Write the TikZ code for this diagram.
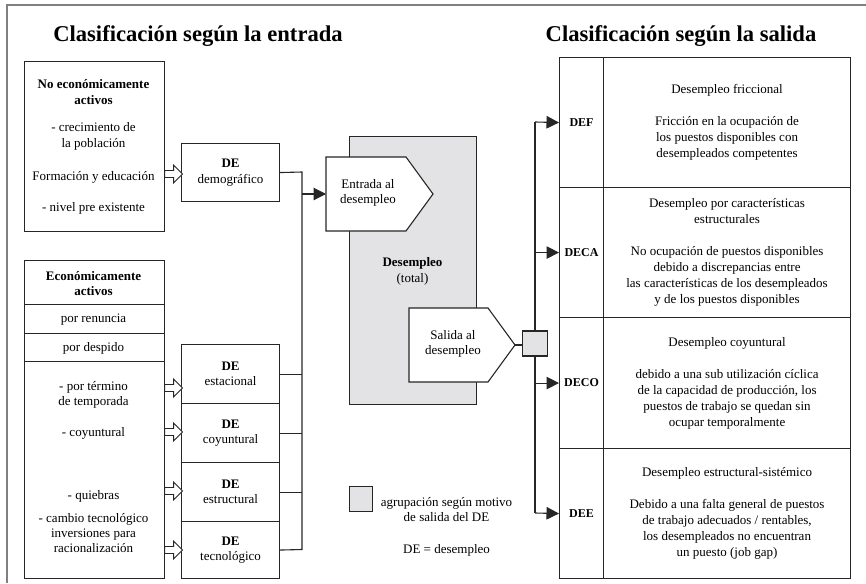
\documentclass[tikz,border=0pt]{standalone}
\usepackage{fontspec}
\setmainfont{Liberation Serif}
\usetikzlibrary{arrows.meta,calc}
\definecolor{boxgray}{HTML}{E3E3E5}
\definecolor{ln}{HTML}{262626}
\definecolor{framegray}{HTML}{808080}
\begin{document}
\begin{tikzpicture}[x=1pt,y=-1pt,
 txt/.style={font=\fontsize{13}{15.5}\selectfont, align=center, inner sep=0pt},
 btxt/.style={font=\fontsize{13}{15.5}\selectfont\bfseries, align=center, inner sep=0pt},
 ttl/.style={font=\fontsize{22.6}{26}\selectfont\bfseries, anchor=base, inner sep=0pt},
 box/.style={draw=ln, line width=1.1pt, inner sep=0pt, anchor=north west, align=center,
   font=\fontsize{13}{15.5}\selectfont},
 tbox/.style={box, font=\fontsize{13}{16}\selectfont},
 conn/.style={draw=ln, line width=1.1pt},
 arr/.style={conn, -{Triangle[length=12.5pt,width=12.5pt]}},
 harrow/.pic={\draw[ln, line width=0.9pt, fill=white] (0,-3.5)--(9,-3.5)--(9,-9)--(18,0)--(9,9)--(9,3.5)--(0,3.5)--cycle;},
]
\useasboundingbox (0,0) rectangle (866,583);
% frame
\draw[framegray, line width=1.2pt] (7,583) -- (7,5) -- (866,5);

% titles
\node[ttl] (t1) at (198,42) {Clasificación según la entrada};
\node[ttl] (t2) at (681,42) {Clasificación según la salida};

% gray total box
\node[box, fill=boxgray, minimum width=127pt, minimum height=268pt] (tot) at (349,136) {};
\node[btxt, anchor=base] (totA) at (412.5,266) {Desempleo};
\node[txt, anchor=base] (totB) at (412.5,282) {(total)};

% entrada / salida pentagons
\draw[ln, line width=1.1pt, fill=white] (326,157) -- (406,157) -- (433,194) -- (406,231) -- (326,231) -- cycle;
\coordinate (entW) at (326,194);
\node[txt] (ent) at (368,193) {Entrada al\\desempleo};
\draw[ln, line width=1.1pt, fill=white] (409,308) -- (488,308) -- (515,345) -- (488,382) -- (409,382) -- cycle;
\coordinate (salE) at (515,345);
\node[txt] (sal) at (453,344) {Salida al\\desempleo};

% left top box
\node[box, minimum width=140pt, minimum height=170pt] (ne) at (23.5,61) {};
\node[btxt, anchor=base] (ne1) at (93.5,88.5) {No económicamente};
\node[btxt, anchor=base] (ne2) at (93.5,104) {activos};
\node[txt, anchor=base] (ne3) at (93.5,131.5) {- crecimiento de};
\node[txt, anchor=base] (ne4) at (93.5,147) {la población};
\node[txt, anchor=base] (ne5) at (93.5,180) {Formación y educación};
\node[txt, anchor=base] (ne6) at (93.5,211) {- nivel pre existente};

% left bottom box
\node[box, minimum width=140pt, minimum height=44pt] (ea) at (23.5,260) {};
\node[btxt, anchor=base] (ea1) at (93.5,280) {Económicamente};
\node[btxt, anchor=base] (ea2) at (93.5,295) {activos};
\node[box, minimum width=140pt, minimum height=29pt] (eb) at (23.5,304) {};
\node[txt, anchor=base] (eb1) at (93.5,322) {por renuncia};
\node[box, minimum width=140pt, minimum height=28pt] (ec) at (23.5,333) {};
\node[txt, anchor=base] (ec1) at (93.5,351.5) {por despido};
\node[box, minimum width=140pt, minimum height=217pt] (ed) at (23.5,361) {};
\node[txt, anchor=base] (ed1) at (93.5,390) {- por término};
\node[txt, anchor=base] (ed2) at (93.5,405) {de temporada};
\node[txt, anchor=base] (ed3) at (93.5,436.5) {- coyuntural};
\node[txt, anchor=base] (ed4) at (93.5,499) {- quiebras};
\node[txt, anchor=base] (ed5) at (93.5,522.5) {- cambio tecnológico};
\node[txt, anchor=base] (ed6) at (93.5,537.5) {inversiones para};
\node[txt, anchor=base] (ed7) at (93.5,552.5) {racionalización};

% DE boxes
\node[box, minimum width=98pt, minimum height=58pt] (dem) at (181,143) {\textbf{DE}\\demográfico};
\node[box, minimum width=98pt, minimum height=59pt] (est) at (181,344) {\textbf{DE}\\estacional};
\node[box, minimum width=98pt, minimum height=59pt] (coy) at (181,403) {\textbf{DE}\\coyuntural};
\node[box, minimum width=98pt, minimum height=59pt] (estr) at (181,462) {\textbf{DE}\\estructural};
\node[box, minimum width=98pt, minimum height=57pt] (tec) at (181,521) {\textbf{DE}\\tecnológico};

% hollow arrows
\pic at (ne.east |- 0,174) {harrow};
\pic at (ed.east |- 0,388) {harrow};
\pic at (ed.east |- 0,432) {harrow};
\pic at (ed.east |- 0,491) {harrow};
\pic at (ed.east |- 0,550) {harrow};

% collector line
\coordinate (cTop) at (302,172);
\coordinate (cBot) at (302,549.5);
\draw[conn] (dem.east) -- (cTop) -- (cBot) -- (tec.east);
\draw[conn] (est.east) -- (est.east -| cTop);
\draw[conn] (coy.east) -- (coy.east -| cTop);
\draw[conn] (estr.east) -- (estr.east -| cTop);
\draw[arr] (cTop |- entW) -- (entW);

% gray small square and distribution
\node[draw=ln, line width=1.1pt, fill=boxgray, minimum size=25pt, inner sep=0pt] (sq) at (535,343.5) {};
\draw[conn] (salE) -- (sq.west |- salE);

% right table
\node[tbox, font=\fontsize{12}{16}\selectfont\bfseries, minimum width=44pt, minimum height=130pt] (def) at (559,57) {DEF};
\node[tbox, minimum width=247pt, minimum height=130pt] (defd) at (603,57) {Desempleo friccional\\[16pt]Fricción en la ocupación de\\los puestos disponibles con\\desempleados competentes};
\node[tbox, font=\fontsize{12}{16}\selectfont\bfseries, minimum width=44pt, minimum height=130pt] (deca) at (559,187) {DECA};
\node[tbox, minimum width=247pt, minimum height=130pt] (decad) at (603,187) {Desempleo por características\\estructurales\\[16pt]No ocupación de puestos disponibles\\debido a discrepancias entre\\las características de los desempleados\\y de los puestos disponibles};
\node[tbox, font=\fontsize{12}{16}\selectfont\bfseries, minimum width=44pt, minimum height=131pt] (deco) at (559,317) {DECO};
\node[tbox, minimum width=247pt, minimum height=131pt] (decod) at (603,317) {Desempleo coyuntural\\[16pt]debido a una sub utilización cíclica\\de la capacidad de producción, los\\puestos de trabajo se quedan sin\\ocupar temporalmente};
\node[tbox, font=\fontsize{12}{16}\selectfont\bfseries, minimum width=44pt, minimum height=130pt] (dee) at (559,448) {DEE};
\node[tbox, minimum width=247pt, minimum height=130pt] (deed) at (603,448) {Desempleo estructural-sistémico\\[16pt]Debido a una falta general de puestos\\de trabajo adecuados / rentables,\\los desempleados no encuentran\\un puesto (job gap)};

\coordinate (vTop) at (535,122);
\coordinate (vBot) at (535,513);
\draw[conn] (vTop) -- (sq.north);
\draw[conn] (sq.south) -- (vBot);
\draw[arr] (vTop) -- (def.west);
\draw[arr] (vTop |- deca.west) -- (deca.west);
\draw[arr] (vTop |- deco.west) -- (deco.west);
\draw[arr] (vBot) -- (dee.west);

% legend
\node[draw=ln, line width=0.9pt, fill=boxgray, minimum width=23pt, minimum height=25pt, inner sep=0pt, anchor=north west] (leg) at (349,486) {};
\node[txt, anchor=base] (leg1) at (446.5,506) {agrupación según motivo};
\node[txt, anchor=base] (leg2) at (446.5,521) {de salida del DE};
\node[txt, anchor=base] (leg3) at (446.5,553) {DE = desempleo};
\end{tikzpicture}
\end{document}
